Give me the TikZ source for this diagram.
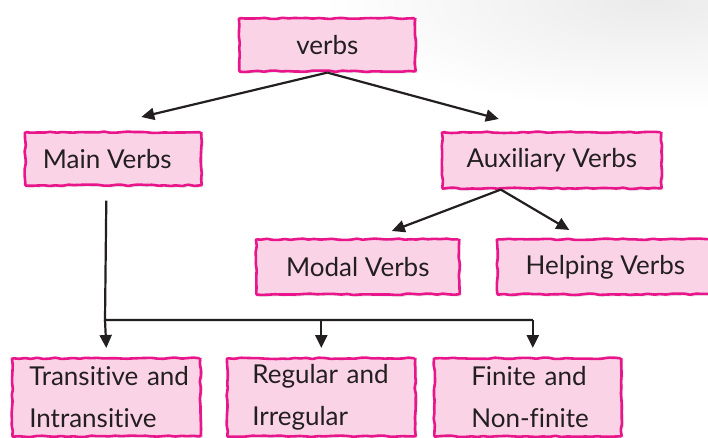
\documentclass[tikz,border=0pt]{standalone}
\usepackage{fontspec}
\setmainfont[Ligatures=NoCommon]{Lato}
\usetikzlibrary{arrows.meta,calc,decorations.pathmorphing,shadows}
\definecolor{boxline}{HTML}{E8168A}
\definecolor{boxfill}{HTML}{FAD4E6}
\definecolor{ink}{HTML}{231F20}
\begin{document}
\begin{tikzpicture}[x=1pt,y=-1pt,
  box/.style={draw=boxline, fill=boxfill, line width=2.6pt,
    decorate, decoration={random steps,segment length=6pt,amplitude=0.7pt},
    rounded corners=0.8pt, font=\fontsize{26}{42}\selectfont, text=ink,
    inner sep=0pt, anchor=north west,
    drop shadow={opacity=0.18, shadow xshift=2pt, shadow yshift=-2pt}},
  lowbox/.style={box, align=left, minimum height=78pt},
  link/.style={draw=ink, line width=2.2pt},
  conn/.style={link, -{Triangle[length=13pt,width=12pt]}}]
\useasboundingbox (0,0) rectangle (708,438);
\clip (0,0) rectangle (708,438);
\fill[white] (0,0) rectangle (708,438);
\shade[inner color=black!8, outer color=white] (650,0) ellipse [x radius=330, y radius=110];

\node[box, minimum width=176pt, minimum height=53pt] (verbs) at (238,17) {verbs};
\node[box, minimum width=176pt, minimum height=53pt] (main) at (24,131) {Main Verbs\hspace*{12pt}};
\node[box, minimum width=219pt, minimum height=56pt] (aux) at (441,131) {Auxiliary Verbs};
\node[box, minimum width=203pt, minimum height=55pt] (modal) at (255,238) {Modal Verbs};
\node[box, minimum width=216pt, minimum height=55pt] (helping) at (496,238) {Helping Verbs};

\node[lowbox, inner xsep=17pt, text width=154pt] (trans) at (11,357) {\mbox{Transitive and}\\\mbox{Intransitive}};
\node[lowbox, inner xsep=25pt, text width=138pt] (regular) at (226,357) {\mbox{Regular and}\\\mbox{Irregular}};
\node[lowbox, inner xsep=37pt, text width=113pt] (finite) at (433,357) {\mbox{Finite and}\\\mbox{Non-finite}};

\draw[conn] (verbs.south) -- ($(main.north)+(28,-14)$);
\draw[conn] (verbs.south) -- ($(aux.north)+(-53,-12)$);
\draw[conn] ($(aux.south)+(-51,0)$) -- ($(modal.north)+(34,-7)$);
\draw[conn] ($(aux.south)+(-51,0)$) -- ($(helping.north)+(-36,-8)$);

\coordinate (bar) at (105,320);
\coordinate (fbar) at ($(bar -| finite.north)+(5,0)$);
\draw[link] ($(main.south)+(-7,14)$) -- (bar) -- (fbar);
\draw[conn] (bar) -- ($(trans.north)+(0,-9)$);
\draw[conn] (bar -| regular.north) -- ($(regular.north)+(0,-9)$);
\draw[conn] (fbar) -- ($(finite.north)+(5,-9)$);
\end{tikzpicture}
\end{document}
